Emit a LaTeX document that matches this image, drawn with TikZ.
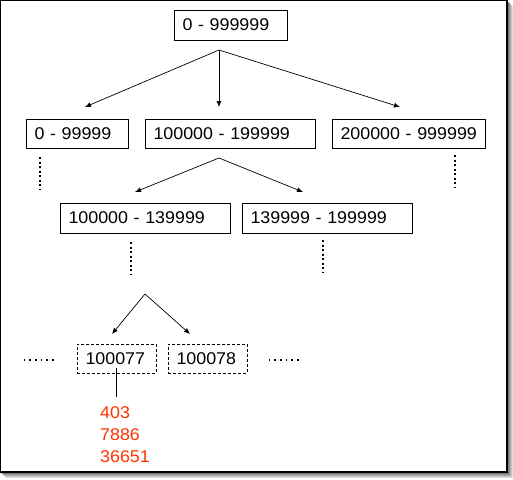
\documentclass[tikz,border=0pt]{standalone}
\usepackage{fontspec}
\setmainfont[FakeStretch=1.05]{Liberation Sans}
\usetikzlibrary{arrows.meta}
\definecolor{redtxt}{HTML}{FF3300}
\begin{document}
\begin{tikzpicture}[x=1pt,y=-1pt,
  bx/.style={draw, line width=0.9pt, minimum height=29pt, inner xsep=8.5pt, inner ysep=0pt,
    outer sep=0pt, align=left, text width=#1, anchor=north west,
    font=\fontsize{17}{20}\selectfont},
  dbx/.style={bx=#1, dash pattern=on 3pt off 2pt, line width=0.8pt},
  conn/.style={line width=0.7pt, -{Latex[length=6pt,width=5pt]}},
  vdots/.style={line width=1.8pt, dash pattern=on 2pt off 2.5pt},
  hdots/.style={line width=1.6pt, dash pattern=on 1.6pt off 4.1pt},
  red/.style={text=redtxt, anchor=base west, inner sep=0pt, font=\fontsize{17}{20}\selectfont}]
\useasboundingbox (0,0) rectangle (513,479);
% frame with shadow
\foreach \i/\c in {6/12,5/22,4/32,3/42,2/52,1/62}
  \fill[black!\c] (\i,\i) rectangle (507+\i,472+\i);
\draw[fill=white, line width=1.3pt] (0.7,0.7) rectangle (507,472);
% nodes
\node[bx=96,minimum height=30pt] (top) at (174,10) {\mbox{0 - 999999}};
\node[bx=85] (A) at (26,119) {\mbox{0 - 99999}};
\node[bx=153] (B) at (145,119) {\mbox{100000 - 199999}};
\node[bx=136] (C) at (332,119) {\mbox{200000 - 999999}};
\node[bx=153,minimum height=30pt] (D) at (60,203) {\mbox{100000 - 139999}};
\node[bx=153,minimum height=30pt] (E) at (242,203) {\mbox{139999 - 199999}};
\node[dbx=62] (F) at (77,344) {100077};
\node[dbx=62] (G) at (168,344) {100078};
\node[red] (r1) at (100,418) {403};
\node[red] (r2) at (100,440) {7886};
\node[red] (r3) at (100,462) {36651};
% connectors
\coordinate (t0) at (219,50);
\coordinate (ta) at (85,107);
\coordinate (tb) at (219,107);
\coordinate (tc) at (400,107);
\draw[conn] (t0) -- (ta);
\draw[conn] (t0) -- (tb);
\draw[conn] (t0) -- (tc);
\coordinate (b0) at (219,158);
\coordinate (bd) at (135,192);
\coordinate (be) at (303,192);
\draw[conn] (b0) -- (bd);
\draw[conn] (b0) -- (be);
\coordinate (d0) at (145,294);
\coordinate (df) at (112,334);
\coordinate (dg) at (190,334);
\draw[conn] (d0) -- (df);
\draw[conn] (d0) -- (dg);
\coordinate (fr) at (116.5,397);
\draw[line width=0.9pt] ([yshift=5pt]F.south) -- (fr);
% dotted continuations
\draw[vdots] (40,157) -- (40,189);
\draw[vdots] (455,155) -- (455,187);
\draw[vdots] (131,242) -- (131,274);
\draw[vdots] (323,240) -- (323,272);
\draw[hdots] (23.5,360) -- (57,360);
\draw[hdots] (268.5,360) -- (302,360);
\end{tikzpicture}
\end{document}
